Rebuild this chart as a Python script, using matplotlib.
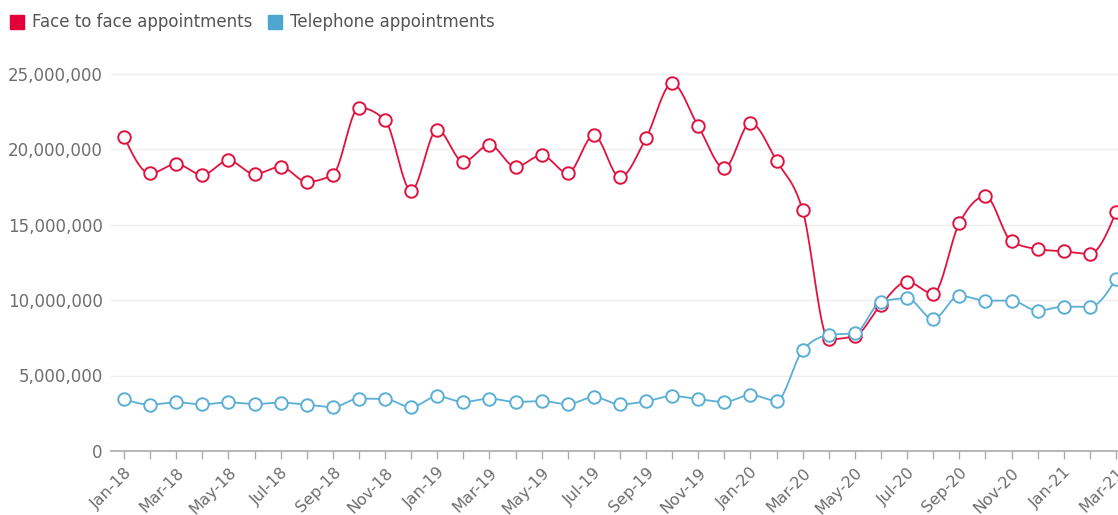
import numpy as np
import matplotlib.pyplot as plt
from matplotlib.patches import Rectangle

months = ['Jan-18', 'Feb-18', 'Mar-18', 'Apr-18', 'May-18', 'Jun-18', 'Jul-18', 'Aug-18',
          'Sep-18', 'Oct-18', 'Nov-18', 'Dec-18', 'Jan-19', 'Feb-19', 'Mar-19', 'Apr-19',
          'May-19', 'Jun-19', 'Jul-19', 'Aug-19', 'Sep-19', 'Oct-19', 'Nov-19', 'Dec-19',
          'Jan-20', 'Feb-20', 'Mar-20', 'Apr-20', 'May-20', 'Jun-20', 'Jul-20', 'Aug-20',
          'Sep-20', 'Oct-20', 'Nov-20', 'Dec-20', 'Jan-21', 'Feb-21', 'Mar-21']

face_to_face = [20.82, 18.38, 19.00, 18.29, 19.24, 18.34, 18.82, 17.83, 18.31, 22.74,
                21.90, 17.25, 21.28, 19.16, 20.27, 18.82, 19.58, 18.41, 20.90, 18.13,
                20.73, 24.34, 21.50, 18.74, 21.72, 19.21, 15.93, 7.40, 7.62, 9.69,
                11.21, 10.42, 15.09, 16.87, 13.88, 13.37, 13.22, 13.06, 15.80]

telephone = [3.44, 3.07, 3.22, 3.09, 3.22, 3.11, 3.20, 3.07, 2.91, 3.47,
             3.44, 2.91, 3.62, 3.25, 3.47, 3.25, 3.31, 3.10, 3.57, 3.09,
             3.29, 3.64, 3.44, 3.25, 3.71, 3.33, 6.67, 7.68, 7.81, 9.87,
             10.11, 8.74, 10.29, 9.96, 9.96, 9.29, 9.56, 9.54, 11.39]

face_to_face = np.array(face_to_face) * 1e6
telephone = np.array(telephone) * 1e6

RED = '#e2123f'
BLUE = '#5aafd6'
TXT = '#6e6e6e'


def monotone(x, y, per=20):
    # monotone cubic curve through the points (like d3 curveMonotoneX)
    x = np.asarray(x, float)
    y = np.asarray(y, float)
    h = np.diff(x)
    s = np.diff(y) / h
    t = np.zeros_like(y)
    for i in range(1, len(y) - 1):
        p = (s[i - 1] * h[i] + s[i] * h[i - 1]) / (h[i - 1] + h[i])
        t[i] = (np.sign(s[i - 1]) + np.sign(s[i])) * min(abs(s[i - 1]), abs(s[i]), 0.5 * abs(p))
    t[0] = (3 * s[0] - t[1]) / 2
    t[-1] = (3 * s[-1] - t[-2]) / 2
    xs, ys = [], []
    for i in range(len(y) - 1):
        u = np.linspace(0, 1, per, endpoint=False)
        h00 = 2 * u**3 - 3 * u**2 + 1
        h10 = u**3 - 2 * u**2 + u
        h01 = -2 * u**3 + 3 * u**2
        h11 = u**3 - u**2
        xs.append(x[i] + u * h[i])
        ys.append(h00 * y[i] + h10 * h[i] * t[i] + h01 * y[i + 1] + h11 * h[i] * t[i + 1])
    xs.append([x[-1]])
    ys.append([y[-1]])
    return np.concatenate(xs), np.concatenate(ys)


plt.rcParams['font.family'] = 'DejaVu Sans'

fig = plt.figure(figsize=(11.18, 5.15), dpi=100)
ax = fig.add_axes([111 / 1118, 1 - 451 / 515, 1 - 111 / 1118, (451 - 60) / 515])

idx = np.arange(len(months))

for vals, col, z in [(face_to_face, RED, 3), (telephone, BLUE, 4)]:
    cx, cy = monotone(idx, vals)
    ax.plot(cx, cy, color=col, lw=1.3, zorder=z, solid_capstyle='round')
    ax.plot(idx, vals, 'o', ms=9, mfc='white', mec=col, mew=1.4, zorder=z + 0.5)

ax.set_xlim(-0.5, 38.08)
ax.set_ylim(0, 25e6 * 391 / 377.5)

yt = np.arange(0, 25e6 + 1, 5e6)
ax.set_yticks(yt)
ax.set_yticklabels(['{:,.0f}'.format(v) for v in yt])
ax.grid(axis='y', color='#eeeeee', lw=1)
ax.set_axisbelow(True)

ax.set_xticks(idx)
ax.set_xticklabels([m if i % 2 == 0 else '' for i, m in enumerate(months)],
                   rotation=45, ha='right', va='top', rotation_mode='anchor')

for sp in ['top', 'right', 'left']:
    ax.spines[sp].set_visible(False)
ax.spines['bottom'].set_color('#aaaaaa')
ax.spines['bottom'].set_linewidth(1.2)

ax.tick_params(axis='y', length=0, pad=6, labelsize=12, labelcolor=TXT)
ax.tick_params(axis='x', length=6, width=1, color='#aaaaaa', pad=4, labelsize=11.5, labelcolor=TXT)

# legend
fig.patches.append(Rectangle((10 / 1118, 1 - 29 / 515), 14 / 1118, 14 / 515,
                             transform=fig.transFigure, color='#e4003b'))
fig.text(32 / 1118, 1 - 22 / 515, 'Face to face appointments', fontsize=12,
         color='#555555', va='center')
fig.patches.append(Rectangle((268 / 1118, 1 - 29 / 515), 14 / 1118, 14 / 515,
                             transform=fig.transFigure, color='#4ca6d0'))
fig.text(290 / 1118, 1 - 22 / 515, 'Telephone appointments', fontsize=12,
         color='#555555', va='center')

fig.savefig('out.png', dpi=100)
